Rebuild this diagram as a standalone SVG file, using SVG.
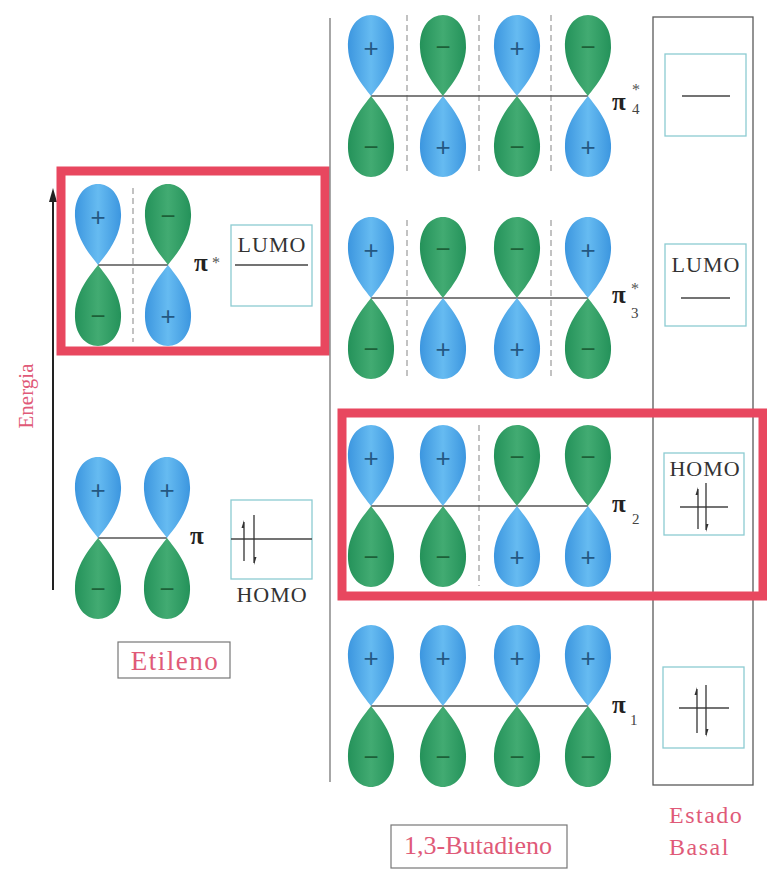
<svg xmlns="http://www.w3.org/2000/svg" width="767" height="869" viewBox="0 0 767 869">
  <defs>
    <linearGradient id="gBlue" x1="0" y1="0" x2="1" y2="0">
      <stop offset="0" stop-color="#3c96df"/>
      <stop offset="0.5" stop-color="#66bbf1"/>
      <stop offset="1" stop-color="#3c96df"/>
    </linearGradient>
    <linearGradient id="gGreen" x1="0" y1="0" x2="1" y2="0">
      <stop offset="0" stop-color="#24925a"/>
      <stop offset="0.5" stop-color="#42ab72"/>
      <stop offset="1" stop-color="#24925a"/>
    </linearGradient>
    <!-- p-orbital lobe, node at the origin, pointing up -->
    <path id="lobe" d="M0,0 C-4,-6 -22,-24 -23,-48 C-24,-70 -12,-81 0,-81 C12,-81 24,-70 23,-48 C22,-24 4,-6 0,0 Z"/>
    <!-- two-lobe orbitals: A = blue up / green down, B = green up / blue down -->
    <g id="orbA">
      <use href="#lobe" fill="url(#gBlue)"/>
      <use href="#lobe" fill="url(#gGreen)" transform="scale(1,-1)"/>
      <text class="sign plus" x="0" y="-39">+</text>
      <text class="sign minus" x="0" y="60">−</text>
    </g>
    <g id="orbB">
      <use href="#lobe" fill="url(#gGreen)"/>
      <use href="#lobe" fill="url(#gBlue)" transform="scale(1,-1)"/>
      <text class="sign minus" x="0" y="-40">−</text>
      <text class="sign plus" x="0" y="60">+</text>
    </g>
    <path id="harpUp" d="M0,0 L-2.5,8 L0,8 Z"/>
  </defs>
  <style>
    text { font-family: "Liberation Serif", "DejaVu Serif", serif; }
    .sign { font-size: 26px; text-anchor: middle; font-family: "Liberation Sans", sans-serif; }
    .plus { fill: #245883; }
    .minus { fill: #1c6038; }
    .node { stroke: #555; stroke-width: 1.5; }
    .dash { stroke: #9a9a9a; stroke-width: 1.2; stroke-dasharray: 6 4; }
    .frame { fill: none; stroke: #5a5a5a; stroke-width: 1.3; }
    .lvl { fill: none; stroke: #8ccbd2; stroke-width: 1.3; }
    .hl { fill: none; stroke: #e8475f; stroke-width: 9; }
    .line { stroke: #444; stroke-width: 1.5; }
    .e { stroke: #333; stroke-width: 1.3; }
    .pink { fill: #e05a78; }
    .lbl { font-size: 25px; font-weight: bold; fill: #222; }
    .sub { font-size: 15px; fill: #444; }
    .star { font-size: 16px; fill: #555; }
    .box-t { font-size: 22px; fill: #333; text-anchor: middle; letter-spacing: 1px; }
  </style>

  <!-- energy axis -->
  <g id="energy-axis">
    <line x1="53" y1="590" x2="53" y2="196" stroke="#222" stroke-width="2"/>
    <polygon points="53,188 49,202 57,202" fill="#222"/>
    <text class="pink" font-size="21" transform="translate(33,396) rotate(-90)" text-anchor="middle">Energia</text>
  </g>

  <!-- ethylene pi* -->
  <g id="ethylene-pistar">
    <line class="dash" x1="133" y1="188" x2="133" y2="342"/>
    <line class="node" x1="98" y1="265" x2="168" y2="265"/>
    <use href="#orbA" x="98" y="265"/>
    <use href="#orbB" x="168" y="265"/>
    <text class="lbl" x="194" y="271">π</text>
    <text class="star" x="212" y="268">*</text>
    <rect class="lvl" x="231" y="225" width="81" height="81"/>
    <text class="box-t" x="272" y="252">LUMO</text>
    <line class="line" x1="235" y1="265" x2="308" y2="265"/>
    <rect class="hl" x="61" y="171" width="264" height="180"/>
  </g>

  <!-- ethylene pi -->
  <g id="ethylene-pi">
    <line class="node" x1="98" y1="538" x2="167" y2="538"/>
    <use href="#orbA" x="98" y="538"/>
    <use href="#orbA" x="167" y="538"/>
    <text class="lbl" x="190" y="544">π</text>
    <rect class="lvl" x="231" y="500" width="81" height="79"/>
    <line class="line" x1="231" y1="539" x2="312" y2="539"/>
    <line class="e" x1="244" y1="522" x2="244" y2="561"/>
    <use href="#harpUp" x="244" y="520" fill="#333"/>
    <line class="e" x1="254" y1="515" x2="254" y2="563"/>
    <use href="#harpUp" x="254" y="565" fill="#333" transform="rotate(180,254,565)"/>
    <text class="box-t" x="272" y="602">HOMO</text>
  </g>

  <g id="label-etileno">
    <rect x="118" y="642" width="112" height="36" fill="none" stroke="#777" stroke-width="1.2"/>
    <text class="pink" x="175" y="670" font-size="27" letter-spacing="1.5" text-anchor="middle">Etileno</text>
  </g>

  <!-- butadiene column frame -->
  <g id="butadiene-axis">
    <line x1="330" y1="18" x2="330" y2="782" stroke="#777" stroke-width="1.3"/>
  </g>

  <!-- butadiene pi4* -->
  <g id="butadiene-pi4">
    <line class="dash" x1="407" y1="15" x2="407" y2="174"/>
    <line class="dash" x1="479" y1="15" x2="479" y2="174"/>
    <line class="dash" x1="551" y1="15" x2="551" y2="174"/>
    <line class="node" x1="371" y1="96" x2="588" y2="96"/>
    <use href="#orbA" x="371" y="96"/>
    <use href="#orbB" x="443" y="96"/>
    <use href="#orbA" x="517" y="96"/>
    <use href="#orbB" x="588" y="96"/>
    <text class="lbl" x="612" y="110">π</text>
    <text class="star" x="632" y="95">*</text>
    <text class="sub" x="632" y="114">4</text>
  </g>

  <!-- butadiene pi3* -->
  <g id="butadiene-pi3">
    <line class="dash" x1="407" y1="220" x2="407" y2="378"/>
    <line class="dash" x1="551" y1="220" x2="551" y2="378"/>
    <line class="node" x1="371" y1="298" x2="588" y2="298"/>
    <use href="#orbA" x="371" y="298"/>
    <use href="#orbB" x="443" y="298"/>
    <use href="#orbB" x="517" y="298"/>
    <use href="#orbA" x="588" y="298"/>
    <text class="lbl" x="612" y="303">π</text>
    <text class="star" x="631" y="294">*</text>
    <text class="sub" x="631" y="318">3</text>
  </g>

  <!-- butadiene pi2 -->
  <g id="butadiene-pi2">
    <line class="dash" x1="479" y1="425" x2="479" y2="586"/>
    <line class="node" x1="371" y1="506" x2="588" y2="506"/>
    <use href="#orbA" x="371" y="506"/>
    <use href="#orbA" x="443" y="506"/>
    <use href="#orbB" x="517" y="506"/>
    <use href="#orbB" x="588" y="506"/>
    <text class="lbl" x="612" y="512">π</text>
    <text class="sub" x="632" y="524">2</text>
  </g>

  <!-- butadiene pi1 -->
  <g id="butadiene-pi1">
    <line class="node" x1="371" y1="706" x2="588" y2="706"/>
    <use href="#orbA" x="371" y="706"/>
    <use href="#orbA" x="443" y="706"/>
    <use href="#orbA" x="517" y="706"/>
    <use href="#orbA" x="588" y="706"/>
    <text class="lbl" x="612" y="713">π</text>
    <text class="sub" x="630" y="725">1</text>
  </g>

  <!-- ground state column -->
  <g id="ground-state">
    <rect class="frame" x="653" y="17" width="100" height="768"/>
    <rect class="lvl" x="665" y="54" width="81" height="82"/>
    <line class="line" x1="682" y1="96" x2="730" y2="96"/>
    <rect class="lvl" x="665" y="244" width="81" height="82"/>
    <text class="box-t" x="706" y="272">LUMO</text>
    <line class="line" x1="681" y1="298" x2="730" y2="298"/>
    <rect class="lvl" x="664" y="453" width="80" height="82"/>
    <text class="box-t" x="705" y="476">HOMO</text>
    <line class="line" x1="680" y1="507" x2="728" y2="507"/>
    <line class="e" x1="698" y1="489" x2="698" y2="529"/>
    <use href="#harpUp" x="698" y="487" fill="#333"/>
    <line class="e" x1="706" y1="483" x2="706" y2="530"/>
    <use href="#harpUp" x="706" y="532" fill="#333" transform="rotate(180,706,532)"/>
    <rect class="lvl" x="663" y="667" width="81" height="81"/>
    <line class="line" x1="679" y1="708" x2="729" y2="708"/>
    <line class="e" x1="697" y1="689" x2="697" y2="733"/>
    <use href="#harpUp" x="697" y="687" fill="#333"/>
    <line class="e" x1="706" y1="685" x2="706" y2="735"/>
    <use href="#harpUp" x="706" y="737" fill="#333" transform="rotate(180,706,737)"/>
    <text class="pink" x="669" y="823" font-size="24" letter-spacing="1.5">Estado</text>
    <text class="pink" x="669" y="855" font-size="24" letter-spacing="1.5">Basal</text>
  </g>

  <rect id="pi2-highlight" class="hl" x="342" y="413" width="421" height="183"/>

  <g id="label-butadieno">
    <rect x="391" y="825" width="176" height="43" fill="none" stroke="#777" stroke-width="1.2"/>
    <text class="pink" x="478" y="854" font-size="26" text-anchor="middle">1,3-Butadieno</text>
  </g>
</svg>
